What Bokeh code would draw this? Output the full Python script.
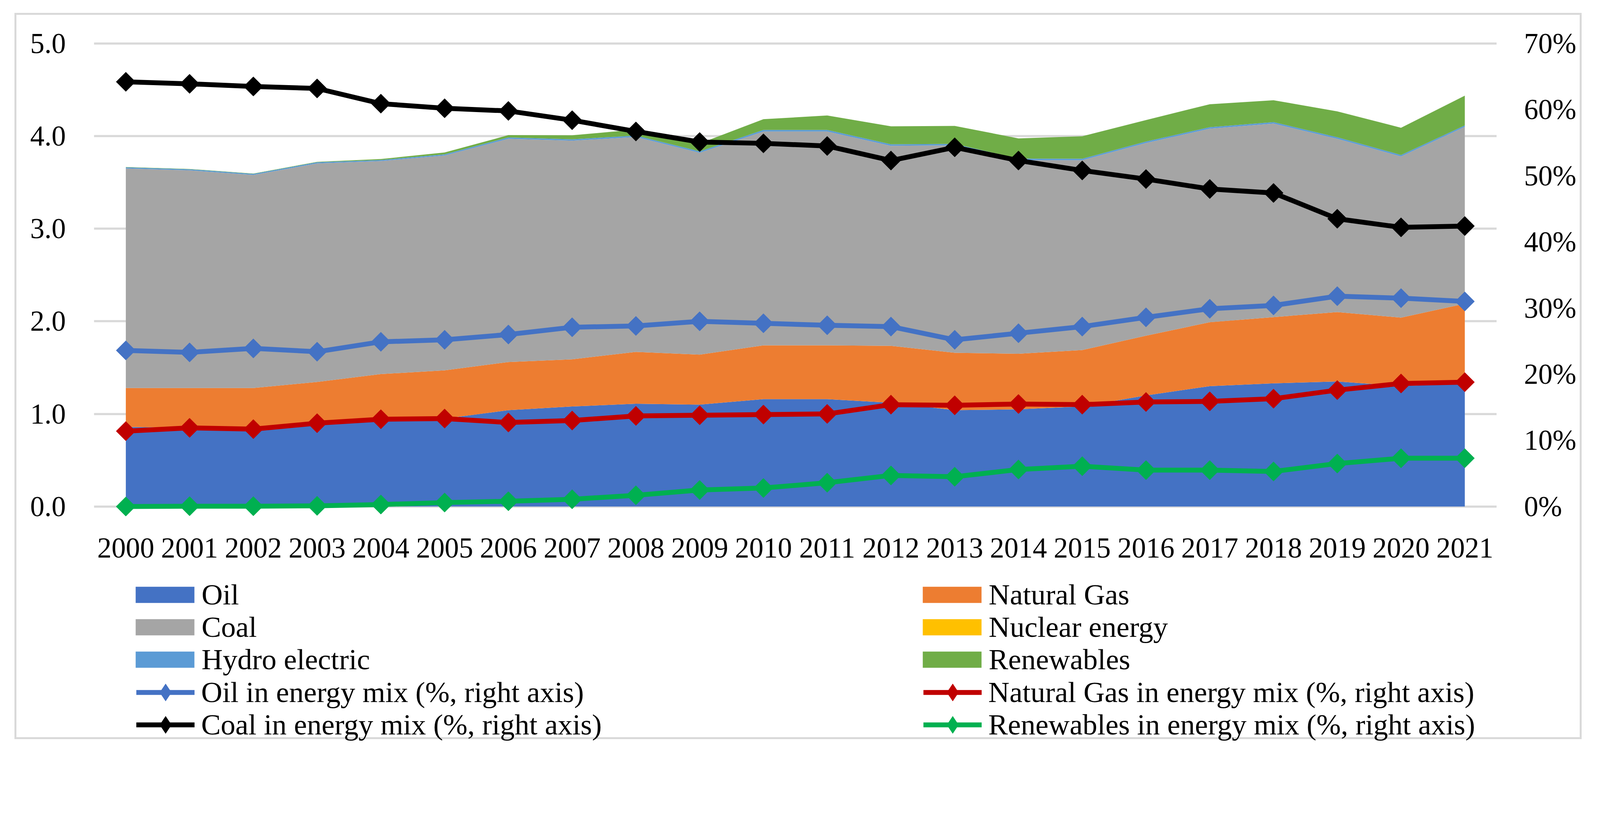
import numpy as np
from bokeh.plotting import figure
from bokeh.models import (ColumnDataSource, FactorRange, Range1d, LinearAxis, FixedTicker,
                          PrintfTickFormatter, Legend, LegendItem)
from bokeh.embed import file_html
from bokeh.resources import INLINE

# ---------------- data ----------------
years = ["2000", "2001", "2002", "2003", "2004", "2005", "2006", "2007", "2008", "2009", "2010",
         "2011", "2012", "2013", "2014", "2015", "2016", "2017", "2018", "2019", "2020", "2021"]

oil = [0.86, 0.85, 0.86, 0.88, 0.93, 0.95, 1.04, 1.08, 1.11, 1.10, 1.16,
       1.16, 1.12, 1.04, 1.05, 1.08, 1.20, 1.30, 1.33, 1.35, 1.30, 1.33]
natural_gas = [0.42, 0.43, 0.42, 0.465, 0.50, 0.52, 0.52, 0.51, 0.56, 0.54, 0.58,
               0.58, 0.615, 0.62, 0.60, 0.61, 0.645, 0.69, 0.715, 0.75, 0.74, 0.86]
coal = [2.37, 2.35, 2.30, 2.36, 2.30, 2.32, 2.41, 2.36, 2.32, 2.18, 2.31,
        2.31, 2.16, 2.24, 2.09, 2.05, 2.08, 2.09, 2.09, 1.87, 1.74, 1.91]
nuclear = [0.0, 0.0, 0.0, 0.0, 0.0, 0.0, 0.0, 0.0, 0.0, 0.0, 0.0,
           0.0, 0.0, 0.0, 0.0, 0.0, 0.0, 0.0, 0.0, 0.0, 0.0, 0.0]
hydro = [0.013, 0.012, 0.012, 0.013, 0.012, 0.013, 0.015, 0.015, 0.015, 0.015, 0.016,
         0.016, 0.016, 0.016, 0.016, 0.015, 0.016, 0.016, 0.016, 0.017, 0.016, 0.015]
renewables = [0.003, 0.003, 0.003, 0.004, 0.010, 0.020, 0.025, 0.043, 0.066, 0.085, 0.116,
              0.156, 0.194, 0.194, 0.219, 0.243, 0.232, 0.248, 0.236, 0.280, 0.294, 0.321]

oil_pct = [23.6, 23.3, 23.9, 23.4, 24.9, 25.2, 26.0, 27.1, 27.3, 28.0, 27.7,
           27.4, 27.2, 25.2, 26.2, 27.2, 28.6, 29.9, 30.4, 31.8, 31.5, 31.0]
gas_pct = [11.4, 11.9, 11.7, 12.6, 13.2, 13.3, 12.7, 13.0, 13.7, 13.8, 13.9,
           14.0, 15.4, 15.3, 15.5, 15.4, 15.8, 15.9, 16.3, 17.6, 18.6, 18.8]
coal_pct = [64.2, 63.9, 63.5, 63.2, 60.9, 60.2, 59.8, 58.4, 56.7, 55.1, 54.9,
            54.5, 52.3, 54.3, 52.3, 50.8, 49.5, 48.0, 47.4, 43.5, 42.2, 42.4]
renew_pct = [0.0, 0.05, 0.05, 0.1, 0.3, 0.6, 0.8, 1.1, 1.7, 2.5, 2.8,
             3.6, 4.7, 4.5, 5.6, 6.1, 5.5, 5.5, 5.3, 6.5, 7.3, 7.3]

left_ticks = [0, 1, 2, 3, 4, 5]
right_ticks = [0, 10, 20, 30, 40, 50, 60, 70]

area_names = ["Oil", "Natural Gas", "Coal", "Nuclear energy", "Hydro electric", "Renewables"]
area_keys = ["oil", "gas", "coal", "nuclear", "hydro", "renew"]
area_colors = ["#4472C4", "#ED7D31", "#A5A5A5", "#FFC000", "#5B9BD5", "#70AD47"]

line_names = ["Oil in energy mix (%, right axis)", "Natural Gas in energy mix (%, right axis)",
              "Coal in energy mix (%, right axis)", "Renewables in energy mix (%, right axis)"]
line_keys = ["oil_pct", "gas_pct", "coal_pct", "renew_pct"]
line_colors = ["#4472C4", "#C00000", "#000000", "#00B050"]

source = ColumnDataSource(dict(
    year=years, oil=oil, gas=natural_gas, coal=coal, nuclear=nuclear, hydro=hydro,
    renew=renewables, oil_pct=oil_pct, gas_pct=gas_pct, coal_pct=coal_pct, renew_pct=renew_pct))

FONT = "Liberation Serif"
FS = "73px"
LEG_FS = "75px"
GRID = "#D9D9D9"

# frame: 3591 x 1799 css px; 1 unit on left axis = 237.2 px
H = 1860
TOP = 61
Y1 = 5.0497
Y0 = Y1 - (H - TOP) / 237.2
p = figure(x_range=FactorRange(factors=years), y_range=Range1d(Y0, Y1),
           width=4012, height=H,
           min_border_left=198, min_border_right=223, min_border_top=TOP, min_border_bottom=0,
           output_backend="svg", toolbar_location=None,
           margin=(33, 0, 0, 37), styles={"border": "5px solid #D9D9D9"})
p.extra_y_ranges = {"pct": Range1d(Y0 * 14, Y1 * 14)}
p.outline_line_color = None
p.background_fill_color = "white"
p.border_fill_color = "white"

# grid
p.xgrid.grid_line_color = None
p.ygrid.ticker = FixedTicker(ticks=left_ticks)
p.ygrid.grid_line_color = GRID
p.ygrid.grid_line_width = 5.5

# axes
def style_axis(ax, standoff):
    ax.axis_line_color = None
    ax.major_tick_line_color = None
    ax.minor_tick_line_color = None
    ax.major_tick_out = 0
    ax.major_tick_in = 0
    ax.major_label_text_font = FONT
    ax.major_label_text_font_size = FS
    ax.major_label_text_color = "black"
    ax.major_label_standoff = standoff

p.yaxis.ticker = FixedTicker(ticks=left_ticks)
p.yaxis.formatter = PrintfTickFormatter(format="%.1f")
style_axis(p.yaxis[0], 72)
style_axis(p.xaxis[0], 82)
p.xaxis.fixed_location = 0

raxis = LinearAxis(y_range_name="pct", ticker=FixedTicker(ticks=right_ticks),
                   formatter=PrintfTickFormatter(format="%d%%"))
style_axis(raxis, 70)
p.add_layout(raxis, "right")

# stacked areas
area_rs = p.varea_stack(stackers=area_keys, x="year", color=area_colors, source=source)

# lines with diamond markers
line_items = []
for key, col, name in zip(line_keys, line_colors, line_names):
    lr = p.line(x="year", y=key, source=source, y_range_name="pct", line_color=col,
                line_width=12.5, line_join="round", line_cap="round")
    # narrow diamond (drawn under the wider marker) provides the legend key shape
    dr = p.scatter(x="year", y=key, source=source, y_range_name="pct", marker="diamond",
                   size=38, fill_color=col, line_color=col)
    p.scatter(x="year", y=key, source=source, y_range_name="pct", marker="square",
              angle=np.pi / 4, size=35, fill_color=col, line_color=col)
    line_items.append(LegendItem(label=name, renderers=[lr, dr]))

area_items = [LegendItem(label=n, renderers=[r]) for n, r in zip(area_names, area_rs)]

common = dict(orientation="horizontal", ncols=2, padding=0, margin=0, spacing=0,
              border_line_color=None, background_fill_alpha=0,
              label_text_font=FONT, label_text_font_size=LEG_FS, label_text_color="black",
              label_height=80)

# one legend per row (two columns each), rows placed like the original
area_rows_vy = [332, 249, 166]
for i, vy in enumerate(area_rows_vy):
    leg = Legend(items=area_items[2 * i:2 * i + 2], location=(88, vy),
                 glyph_width=188, glyph_height=52, label_standoff=0, label_width=1827, **common)
    p.add_layout(leg, "center")

line_rows_vy = [70, -13]
for i, vy in enumerate(line_rows_vy):
    leg = Legend(items=line_items[2 * i:2 * i + 2], location=(109, vy),
                 glyph_width=149, glyph_height=110, label_standoff=17, label_width=1849, **common)
    p.add_layout(leg, "center")

open("out.html", "w").write(file_html(p, INLINE))
